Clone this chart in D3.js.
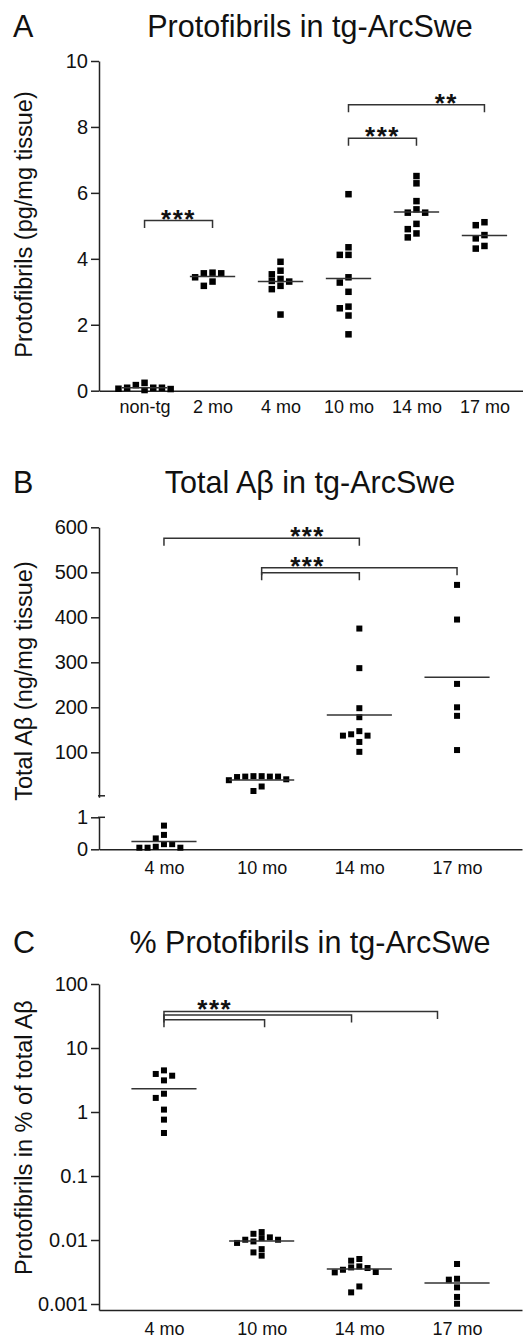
<!DOCTYPE html>
<html>
<head>
<meta charset="utf-8">
<script src="https://cdn.jsdelivr.net/npm/d3@7"></script>
<style>
body { margin: 0; background: #fff; }
svg { display: block; font-family: "Liberation Sans", Arial, sans-serif; }
</style>
</head>
<body>
<div id="chart"></div>
<script>
// ---- Panel A: protofibrils (pg/mg tissue)
const protoGroups = ["non-tg", "2 mo", "4 mo", "10 mo", "14 mo", "17 mo"];
const protoValues = [
    [0.24, 0.17, 0.09, 0.09, 0.06, 0.02, 0.05, 0.09],
    [3.58, 3.56, 3.56, 3.44, 3.31, 3.18],
    [3.91, 3.64, 3.53, 3.39, 3.33, 3.31, 3.18, 3.08, 2.31],
    [5.96, 4.35, 4.12, 4.12, 3.44, 3.28, 3.00, 2.55, 2.50, 2.28, 1.71],
    [6.51, 6.29, 5.75, 5.50, 5.40, 5.40, 5.06, 4.90, 4.77, 4.65],
    [5.11, 5.02, 4.72, 4.62, 4.39, 4.31]
];
const protoMeans = [0.09, 3.46, 3.31, 3.40, 5.42, 4.71];
const protoTicks = [0, 2, 4, 6, 8, 10];
const protoSig = [
    { from: 0, to: 1, y: 5.16, label: "***", at: 0.5 },
    { from: 3, to: 4, y: 7.66, label: "***", at: 3.5 },
    { from: 3, to: 5, y: 8.67, label: "**", at: 4.44 }
];

// ---- Panel B: total Abeta (ng/mg tissue), broken axis
const abGroups = ["4 mo", "10 mo", "14 mo", "17 mo"];
const abValues = [
    [0.74, 0.45, 0.34, 0.16, 0.05, 0.05, 0.05, 0.08, 0.16],
    [47, 47, 46, 46, 46, 45, 40, 38, 24, 14],
    [375, 287, 198, 178, 147, 140, 137, 137, 123, 101],
    [472, 395, 252, 200, 181, 105]
];
const abMeans = [0.24, 38.4, 182.9, 266.7];
const abTicksUpper = [100, 200, 300, 400, 500, 600];
const abTicksLower = [0, 1];
const abSig = [
    { from: 0, to: 2, y: 575.6, label: "***", at: 1.47 },
    { from: 1, to: 3, y: 510.2, label: "***", at: 1.47 },
    { from: 1, to: 2, y: 499, label: "", at: 1.5 }
];

// ---- Panel C: protofibrils in % of total Abeta (log)
const pctGroups = ["4 mo", "10 mo", "14 mo", "17 mo"];
const pctValues = [
    [4.47, 3.93, 3.69, 3.12, 1.93, 1.66, 1.09, 0.76, 0.47],
    [0.0133, 0.0125, 0.0110, 0.0107, 0.0101, 0.0101, 0.0095, 0.0090, 0.0072, 0.0064, 0.0057],
    [0.00505, 0.00475, 0.00387, 0.00373, 0.00365, 0.00343, 0.00316, 0.00312, 0.00188, 0.00152],
    [0.00422, 0.00248, 0.0024, 0.00182, 0.00129, 0.00101]
];
const pctMeans = [2.31, 0.00965, 0.00352, 0.00213];
const pctTicks = [0.001, 0.01, 0.1, 1, 10, 100];
const pctSig = [
    { from: 0, to: 2.8, y: 37.3, label: "***", at: 0.52 },
    { from: 0, to: 1.92, y: 32.8, label: "", at: 0 },
    { from: 0, to: 1.03, y: 27.7, label: "", at: 0 }
];

const W = 523, H = 1338;
const axisX = 99, axisEnd = 522;
const ink = "#222";

let svg = d3.select("#chart").append("svg")
    .attr("width", W)
    .attr("height", H);

svg.append("rect").attr("width", W).attr("height", H).attr("fill", "#fff");

// place points column by column so squares don't sit on top of each other
function dodge(values, yOf, size)
{
    let order = d3.range(values.length).sort((a, b) => values[b] - values[a]);
    let placed = [];
    let cols = [];
    order.forEach((i) => {
        let py = yOf(values[i]);
        for (let k = 0; k < 20; k++) {
            let c = k === 0 ? 0 : (k % 2 ? -(k + 1) / 2 : k / 2);
            if (!placed.some((p) => p.c === c && Math.abs(p.y - py) < size)) {
                placed.push({ c: c, y: py });
                cols[i] = c;
                break;
            }
        }
    });
    return cols;
}

function title(letter, text, y)
{
    svg.append("text")
        .attr("x", 13).attr("y", y)
        .attr("font-size", 30.5).attr("fill", "#111")
        .text(letter);
    svg.append("text")
        .attr("x", 310).attr("y", y)
        .attr("text-anchor", "middle")
        .attr("font-size", 30.5).attr("fill", "#111")
        .text(text);
}

function yLabel(text, cy)
{
    svg.append("text")
        .attr("transform", "translate(31.5," + cy + ") rotate(-90)")
        .attr("text-anchor", "middle")
        .attr("font-size", 23.5).attr("fill", "#111")
        .text(text);
}

function styleAxis(g, fontSize)
{
    g.selectAll("path, line").attr("stroke", ink).attr("stroke-width", 1.5);
    g.selectAll("text").attr("font-size", fontSize).attr("fill", "#111")
        .attr("font-family", "Liberation Sans, Arial, sans-serif");
}

function drawPoints(groups, values, means, x, yOf, size)
{
    let step = x.step();
    let spacing = size + 2.2;
    let g = svg.append("g");
    groups.forEach((grp, gi) => {
        let cols = dodge(values[gi], yOf, size);
        g.selectAll(null)
            .data(values[gi])
            .enter().append("rect")
            .attr("x", (d, i) => x(grp) + cols[i] * spacing - size / 2)
            .attr("y", (d) => yOf(d) - size / 2)
            .attr("width", size)
            .attr("height", size)
            .attr("fill", "#000");
        g.append("line")
            .attr("x1", x(grp) - step / 3)
            .attr("x2", x(grp) + step / 3)
            .attr("y1", yOf(means[gi]))
            .attr("y2", yOf(means[gi]))
            .attr("stroke", "#333")
            .attr("stroke-width", 1.5);
    });
}

function drawSig(sig, groups, x, yOf)
{
    let step = x.step();
    let x0 = x(groups[0]);
    let g = svg.append("g");
    sig.forEach((s) => {
        let xa = x0 + s.from * step, xb = x0 + s.to * step, yy = yOf(s.y);
        g.append("path")
            .attr("d", "M" + xa + "," + (yy + 7.5) + "V" + yy + "H" + xb + "V" + (yy + 7.5))
            .attr("fill", "none")
            .attr("stroke", "#333")
            .attr("stroke-width", 1.5);
        if (s.label)
            g.append("text")
                .attr("x", x0 + s.at * step)
                .attr("y", yy + 7)
                .attr("text-anchor", "middle")
                .attr("font-size", 26)
                .attr("font-weight", "bold")
                .attr("letter-spacing", 1.5)
                .attr("fill", "#111")
                .text(s.label);
    });
}

// ================= Panel A =================
title("A", "Protofibrils in tg-ArcSwe", 37);

let xA = d3.scalePoint().domain(protoGroups).range([axisX, 530]).padding(0.67);
let yA = d3.scaleLinear().domain([0, 10]).range([390.7, 61]);

let gAy = svg.append("g").attr("transform", "translate(" + axisX + ",0)")
    .call(d3.axisLeft(yA).tickValues(protoTicks).tickSize(8).tickSizeOuter(0).tickPadding(3));
styleAxis(gAy, 20);
let gAx = svg.append("g").attr("transform", "translate(0," + yA(0) + ")")
    .call(d3.axisBottom(xA).tickSize(0).tickPadding(10));
styleAxis(gAx, 18);

yLabel("Protofibrils (pg/mg tissue)", 224.5);
drawPoints(protoGroups, protoValues, protoMeans, xA, yA, 6.5);
drawSig(protoSig, protoGroups, xA, yA);

// ================= Panel B =================
title("B", "Total A\u03b2 in tg-ArcSwe", 492.7);

let xB = d3.scalePoint().domain(abGroups).range([axisX, axisEnd]).padding(0.665);
let yBup = d3.scaleLinear().domain([0, 600]).range([797.3, 527.3]);
let yBlo = d3.scaleLinear().domain([0, 1]).range([849.3, 817.3]);
let yB = (v) => v <= 1 ? yBlo(v) : yBup(v);

let gBu = svg.append("g").attr("transform", "translate(" + axisX + ",0)")
    .call(d3.axisLeft(yBup).tickValues(abTicksUpper).tickSize(8).tickSizeOuter(0).tickPadding(3));
styleAxis(gBu, 20);
let gBl = svg.append("g").attr("transform", "translate(" + axisX + ",0)")
    .call(d3.axisLeft(yBlo).tickValues(abTicksLower).tickFormat(d3.format("d"))
        .tickSize(8).tickSizeOuter(0).tickPadding(3));
styleAxis(gBl, 20);
// break marks
[yBup.range()[0] - 1.5, yBlo(1)].forEach((yy) => {
    svg.append("line")
        .attr("x1", axisX - 1).attr("x2", axisX + 6)
        .attr("y1", yy).attr("y2", yy)
        .attr("stroke", ink).attr("stroke-width", 1.5);
});
let gBx = svg.append("g").attr("transform", "translate(0," + yBlo(0) + ")")
    .call(d3.axisBottom(xB).tickSize(0).tickPadding(12));
styleAxis(gBx, 18);

yLabel("Total A\u03b2 (ng/mg tissue)", 681);
drawPoints(abGroups, abValues, abMeans, xB, yB, 6);
drawSig(abSig, abGroups, xB, yB);

// ================= Panel C =================
title("C", "% Protofibrils in tg-ArcSwe", 953);

let xC = d3.scalePoint().domain(pctGroups).range([axisX, axisEnd]).padding(0.665);
let yC = d3.scaleLog().domain([0.000806, 100]).range([1310, 984]);

let gCy = svg.append("g").attr("transform", "translate(" + axisX + ",0)")
    .call(d3.axisLeft(yC).tickValues(pctTicks).tickFormat((d) => String(d)).tickSize(8).tickSizeOuter(0).tickPadding(3));
styleAxis(gCy, 20);
let gCx = svg.append("g").attr("transform", "translate(0," + yC.range()[0] + ")")
    .call(d3.axisBottom(xC).tickSize(0).tickPadding(12));
styleAxis(gCx, 18);

yLabel("Protofibrils in % of total A\u03b2", 1137.5);
drawPoints(pctGroups, pctValues, pctMeans, xC, yC, 6);
drawSig(pctSig, pctGroups, xC, yC);
</script>
</body>
</html>
